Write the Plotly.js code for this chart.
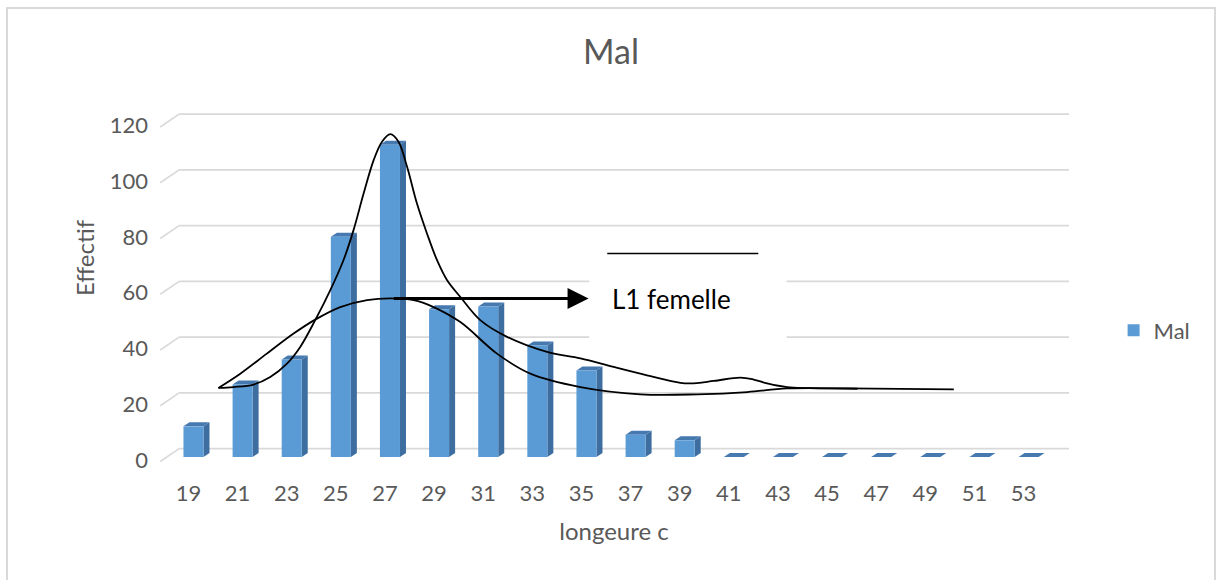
<!DOCTYPE html>
<html>
<head>
<meta charset="utf-8">
<script src="https://cdn.plot.ly/plotly-3.0.1.min.js"></script>
<style>
  html, body { margin: 0; padding: 0; background: #fff; }
  #wrap { position: relative; width: 1222px; height: 580px; overflow: hidden; }
  #chart { width: 1222px; height: 580px; }
  #frame { position: absolute; left: 6px; top: 7px; width: 1210px; height: 600px;
           border: 2px solid #D9D9D9; pointer-events: none; box-sizing: border-box; }
</style>
</head>
<body>
<div id="wrap">
  <div id="chart"></div>
  <div id="frame"></div>
</div>
<script>
// ---- data ----
const lengths  = [19, 21, 23, 25, 27, 29, 31, 33, 35, 37, 39, 41, 43, 45, 47, 49, 51, 53];
const effectif = [11, 26, 35, 79, 112, 53, 54, 40, 31, 8, 6, 0, 0, 0, 0, 0, 0, 0];
const yTicks   = [0, 20, 40, 60, 80, 100, 120];

// hand-drawn curve with the sharp peak
const curveAx = [20.22, 20.83, 21.65, 22.33, 23.01, 23.55, 24.16, 24.77, 25.31, 25.72, 26.13, 26.54, 26.88, 27.22,
                 27.55, 27.90, 28.30, 28.71, 29.12, 29.53, 30.07, 30.88, 31.97, 33.60, 34.96, 36.31, 37.67, 39.03,
                 39.44, 40.39, 41.47, 42.01, 42.56, 43.37, 45.82, 50.16];
const curveAy = [24.8, 25.1, 26.0, 28.7, 33.5, 39.5, 49.1, 59.8, 70.6, 81.4, 94.5, 106.5, 113.1, 115.8,
                 113.1, 104.1, 91.0, 80.2, 70.6, 63.4, 57.4, 49.1, 43.1, 37.7, 35.4, 32.3, 29.3, 26.6,
                 26.4, 27.3, 28.5, 27.8, 26.4, 25.1, 24.6, 24.3];
// hand-drawn wide curve
const curveBx = [20.22, 21.11, 22.19, 23.28, 24.16, 25.18, 26.27, 27.22, 28.17, 28.98, 30.07, 31.56, 32.92,
                 34.96, 37.40, 39.71, 41.75, 43.37, 46.24];
const curveBy = [24.8, 29.9, 37.1, 44.3, 49.3, 53.8, 56.3, 56.9, 56.3, 53.8, 48.4, 37.1, 29.9,
                 25.1, 22.5, 22.5, 23.3, 24.6, 24.5];

// ---- styling constants ----
const FONT = 'Lato, "Open Sans", sans-serif';
const GREY = '#595959';
const BLUE = '#5B9BD5';
const BAR_OFF = -0.204, BAR_W = 0.815;   // front face of each bar
const DX = 0.245, DY = 1.44;             // 3-D depth offset
const GRID_DY = 3.0;                     // back wall shift of the gridlines
const X0 = 17.8, X1 = 54.85, Y0 = -2.5, Y1 = 127;

const shapes = [];
// gridlines on the back wall + side-wall stubs
yTicks.forEach(v => {
  shapes.push({type: 'line', xref: 'x', yref: 'y', x0: 18.62, x1: X1, y0: v + GRID_DY, y1: v + GRID_DY,
               line: {color: '#D9D9D9', width: 1.6}, layer: 'below'});
  shapes.push({type: 'line', xref: 'x', yref: 'y', x0: 17.85, x1: 18.62, y0: v - 1.6, y1: v + GRID_DY,
               line: {color: '#D9D9D9', width: 1.6}, layer: 'below'});
});
// white box behind the "L1 femelle" label
shapes.push({type: 'rect', xref: 'x', yref: 'y', x0: 35.32, x1: 43.35, y0: 31, y1: 79.5,
             fillcolor: '#FFFFFF', line: {width: 0}, layer: 'below'});
// 3-D side and top faces of the bars
lengths.forEach((x, i) => {
  const v = effectif[i];
  const l = x + BAR_OFF, r = l + BAR_W;
  if (v > 0) {
    shapes.push({type: 'path', xref: 'x', yref: 'y', layer: 'below', line: {width: 0}, fillcolor: '#3E6E9F',
      path: `M${r},0 L${r + DX},${DY} L${r + DX},${v + DY} L${r},${v} Z`});
  }
  shapes.push({type: 'path', xref: 'x', yref: 'y', layer: 'below', line: {width: 0}, fillcolor: '#4679B0',
    path: `M${l},${v} L${r},${v} L${r + DX},${v + DY} L${l + DX},${v + DY} Z`});
});
// line drawn above the label
shapes.push({type: 'line', xref: 'x', yref: 'y', x0: 36.05, x1: 42.2, y0: 73.0, y1: 73.0,
             line: {color: '#000', width: 1.6}, layer: 'above'});

const traces = [
  {type: 'bar', name: 'Mal', x: lengths, y: effectif, width: BAR_W, offset: BAR_OFF,
   marker: {color: BLUE, line: {width: 0}}, hoverinfo: 'x+y'},
  {type: 'scatter', mode: 'lines', x: curveAx, y: curveAy, showlegend: false, hoverinfo: 'skip',
   line: {color: '#000', width: 1.8, shape: 'spline', smoothing: 1}},
  {type: 'scatter', mode: 'lines', x: curveBx, y: curveBy, showlegend: false, hoverinfo: 'skip',
   line: {color: '#000', width: 1.8, shape: 'spline', smoothing: 1}}
];

const layout = {
  width: 1222, height: 580,
  margin: {l: 159, r: 153, t: 103, b: 116, autoexpand: false},
  paper_bgcolor: '#FFFFFF', plot_bgcolor: 'rgba(0,0,0,0)',
  font: {family: FONT, color: GREY},
  title: {text: 'Mal', font: {family: FONT, size: 34, color: GREY},
          xref: 'container', yref: 'container', x: 0.5, y: 0.91, xanchor: 'center', yanchor: 'middle'},
  xaxis: {range: [X0, X1], tickvals: lengths, ticktext: lengths.map(String), showgrid: false, zeroline: false,
          showline: false, ticks: '', tickfont: {family: FONT, size: 22, color: GREY}, ticklabelstandoff: 14,
          title: {text: 'longeure c', font: {family: FONT, size: 24, color: GREY}, standoff: 18},
          automargin: false, fixedrange: true},
  yaxis: {range: [Y0, Y1], tickvals: yTicks, showgrid: false, zeroline: false, showline: false, ticks: '',
          tickfont: {family: FONT, size: 22, color: GREY}, ticklabelstandoff: 10, ticklabelshift: 3,
          automargin: false, fixedrange: true},
  showlegend: true,
  legend: {x: 1.049, y: 0.37, xanchor: 'left', yanchor: 'middle', font: {family: FONT, size: 22, color: GREY},
           bgcolor: 'rgba(0,0,0,0)'},
  shapes: shapes,
  annotations: [
    {x: -0.0825, y: 0.573, xref: 'paper', yref: 'paper', xanchor: 'center', yanchor: 'middle', showarrow: false,
     textangle: -90, text: 'Effectif', font: {family: FONT, size: 24, color: GREY}},
    {x: 35.29, y: 56.86, ax: 27.3, ay: 56.86, xref: 'x', yref: 'y', axref: 'x', ayref: 'y',
     showarrow: true, arrowhead: 2, arrowsize: 1.4, arrowwidth: 3, arrowcolor: '#000', text: '', standoff: 0},
    {x: 36.15, y: 56.6, xref: 'x', yref: 'y', xanchor: 'left', yanchor: 'middle', showarrow: false,
     text: 'L1 femelle', font: {family: FONT, size: 26, color: '#000'}}
  ]
};

Plotly.newPlot('chart', traces, layout, {displayModeBar: false, staticPlot: true});
</script>
</body>
</html>
